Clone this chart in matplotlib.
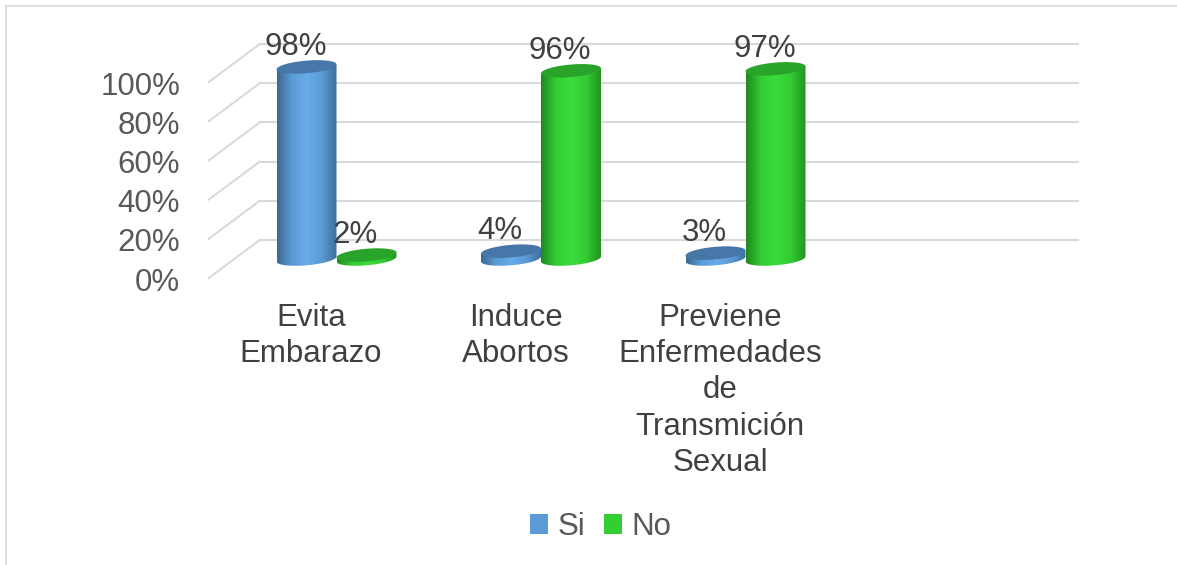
import numpy as np
import matplotlib.pyplot as plt
from matplotlib.patches import Polygon, Patch, Rectangle
from matplotlib.colors import LinearSegmentedColormap

plt.rcParams['font.family'] = ['Liberation Sans', 'DejaVu Sans']

# data
categories = ["Evita\nEmbarazo", "Induce\nAbortos", "Previene\nEnfermedades\nde\nTransmición\nSexual"]
si = [98, 4, 3]
no = [2, 96, 97]
ticks = [0, 20, 40, 60, 80, 100]
n_slots = 4  # excel keeps an empty 4th slot on the floor

# colours
TXT = "#404040"
TXT2 = "#595959"
GRID = "#D9D9D9"
series = [
    dict(name="Si", vals=si, flat="#5B9BD5", top="#4677A8",
         shade=["#3C6894", "#5B9BD5", "#68ACEA", "#5B9BD5", "#3F6E9C"]),
    dict(name="No", vals=no, flat="#33CC33", top="#29A329",
         shade=["#1F8A1F", "#33CC33", "#3CDC3C", "#33CC33", "#229422"]),
]

# pixel geometry of the 3d projection
W, H = 1177, 565
PX_CAT, PX_PCT = 204.5, 1.96
X0, Y0 = 311, 278                 # front plane, first category centre / 0%
DEPTH_X, DEPTH_Y = 51 / PX_CAT, 38 / PX_PCT
BAR_W = 60 / PX_CAT
ELL_B = 6.3 / PX_PCT
SHEAR = (2.5 / PX_PCT) / (BAR_W / 2)

fig = plt.figure(figsize=(W / 100, H / 100), dpi=100)
ax = fig.add_axes([0, 0, 1, 1])
ax.set_xlim((0 - X0) / PX_CAT, (W - X0) / PX_CAT)
ax.set_ylim((Y0 - H) / PX_PCT, Y0 / PX_PCT)
ax.axis('off')

# chart border
fig.patches.append(Rectangle((6 / W, -0.01), 1.02, 1 - 6 / H + 0.01, transform=fig.transFigure,
                             fill=False, ec=GRID, lw=1.2))

# walls: gridlines on back, diagonals on side
left = -0.5
for t in ticks:
    ax.plot([left, left + DEPTH_X], [t, t + DEPTH_Y], color=GRID, lw=1.5, zorder=1)
    ax.plot([left + DEPTH_X, left + n_slots + DEPTH_X], [t + DEPTH_Y, t + DEPTH_Y],
            color=GRID, lw=1.5, zorder=1)
    ax.text(-0.64, t - 0.6, f"{t}%", ha='right', va='center_baseline', fontsize=22.5, color=TXT2)


def ell_pts(cx, cy, th):
    a = BAR_W / 2
    return np.column_stack([cx + a * np.cos(th), cy + ELL_B * np.sin(th) + SHEAR * a * np.cos(th)])


def cylinder(cx, base, val, s, z):
    top = base + val
    a = BAR_W / 2
    lower = ell_pts(cx, base, np.linspace(np.pi, 2 * np.pi, 60))
    body = np.vstack([[cx - a, top - SHEAR * a], lower, [cx + a, top + SHEAR * a]])
    poly = Polygon(body, closed=True, fc='none', ec='none', zorder=z)
    ax.add_patch(poly)
    cmap = LinearSegmentedColormap.from_list("c", s["shade"])
    grad = np.linspace(0, 1, 200)[None, :]
    im = ax.imshow(grad, cmap=cmap, aspect='auto', zorder=z,
                   extent=[cx - a, cx + a, base - ELL_B - 3, top + ELL_B + 3],
                   interpolation='bilinear')
    im.set_clip_path(poly)
    cap = Polygon(ell_pts(cx, top, np.linspace(0, 2 * np.pi, 120)), closed=True,
                  fc=s["top"], ec='none', zorder=z + 0.1)
    ax.add_patch(cap)
    return top


mid_x, mid_y = DEPTH_X / 2, DEPTH_Y / 2
for i, cat in enumerate(categories):
    for j, s in enumerate(series):
        cx = i + mid_x + (j - 0.5) * BAR_W
        val = s["vals"][i]
        top = cylinder(cx, mid_y, val, s, 3 + i + j * 0.5)
        ax.text(cx - 11 / PX_CAT, top + 6, f"{val}%", ha='center', va='baseline',
                fontsize=22.5, color=TXT, zorder=10)
    ax.text(i, -12.5, cat, ha='center', va='top', fontsize=22.5, color=TXT,
            linespacing=1.28)

ax.legend(handles=[Patch(fc=s["flat"], label=s["name"]) for s in series],
          loc='center', bbox_to_anchor=(601 / W, 1 - 527 / H), bbox_transform=fig.transFigure,
          ncol=2, frameon=False, fontsize=22.5, labelcolor=TXT2,
          handlelength=0.58, handleheight=0.58, handletextpad=0.3, columnspacing=0.6)

fig.savefig("out.png", dpi=100)
